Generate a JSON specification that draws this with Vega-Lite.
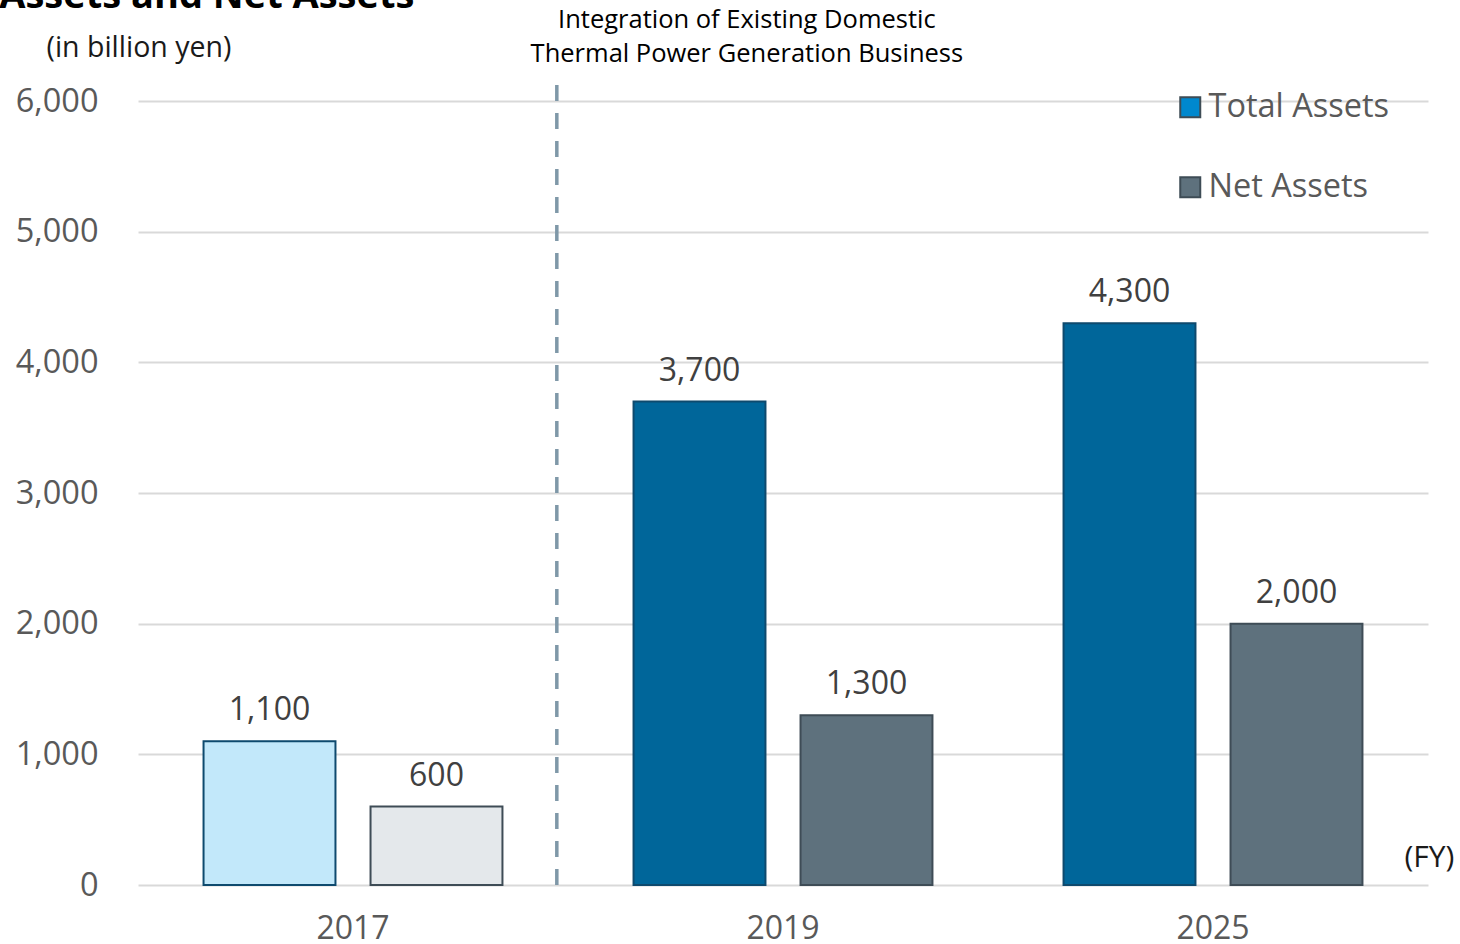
{
  "$schema": "https://vega.github.io/schema/vega-lite/v6.json",
  "width": 1290,
  "height": 784,
  "autosize": {"type": "none"},
  "padding": {"left": 138, "top": 101, "right": 32, "bottom": 59},
  "background": "white",
  "config": {"font": "Open Sans", "view": {"stroke": null}},
  "title": {
    "text": "Assets and Net Assets",
    "anchor": "start",
    "frame": "bounds",
    "fontSize": 38,
    "fontWeight": "bold",
    "color": "#000000",
    "offset": -8,
    "dx": -16
  },
  "layer": [
    {
      "data": {
        "values": [
          {"year": "2017", "series": "Total Assets", "value": 1100},
          {"year": "2017", "series": "Net Assets", "value": 600},
          {"year": "2019", "series": "Total Assets", "value": 3700},
          {"year": "2019", "series": "Net Assets", "value": 1300},
          {"year": "2025", "series": "Total Assets", "value": 4300},
          {"year": "2025", "series": "Net Assets", "value": 2000}
        ]
      },
      "layer": [
        {
          "mark": {"type": "bar", "strokeWidth": 2},
          "encoding": {
            "x": {
              "field": "year",
              "type": "nominal",
              "scale": {"paddingInner": 0, "paddingOuter": 0},
              "axis": {
                "title": "(FY)",
                "titleFontSize": 30,
                "titleFontWeight": "normal",
                "titleColor": "#1a1a1a",
                "titleX": 1266,
                "titleY": -28,
                "titleAlign": "left",
                "titleBaseline": "middle",
                "labelFontSize": 32,
                "labelColor": "#595959",
                "labelAngle": 0,
                "labelPadding": 28,
                "domain": false,
                "ticks": false
              }
            },
            "xOffset": {
              "field": "series",
              "type": "nominal",
              "scale": {"domain": ["Total Assets", "Net Assets"], "paddingInner": 0.21, "paddingOuter": 0.3925}
            },
            "y": {
              "field": "value",
              "type": "quantitative",
              "scale": {"domain": [0, 6000]},
              "axis": {
                "title": "(in billion yen)",
                "titleAngle": 0,
                "titleAlign": "left",
                "titleBaseline": "alphabetic",
                "titleX": -92,
                "titleY": -45,
                "titleFontSize": 28.5,
                "titleFontWeight": "normal",
                "titleColor": "#1a1a1a",
                "values": [0, 1000, 2000, 3000, 4000, 5000, 6000],
                "format": ",.0f",
                "labelFontSize": 32.5,
                "labelColor": "#595959",
                "labelPadding": 40,
                "domain": false,
                "ticks": false,
                "grid": true,
                "gridColor": "#D9D9D9",
                "gridWidth": 2
              }
            },
            "fill": {
              "field": "series",
              "type": "nominal",
              "scale": {"domain": ["Total Assets", "Net Assets"], "range": ["#0088CE", "#5E717D"]},
              "condition": [
                {"test": "datum.year === '2017' && datum.series === 'Total Assets'", "value": "#C2E8FA"},
                {"test": "datum.year === '2017'", "value": "#E4E8EB"},
                {"test": "datum.series === 'Total Assets'", "value": "#00669A"}
              ],
              "legend": {
                "title": null,
                "orient": "none",
                "legendX": 1036,
                "legendY": -10,
                "padding": 0,
                "symbolType": "square",
                "symbolSize": 400,
                "symbolStrokeWidth": 2,
                "labelFontSize": 32.5,
                "labelColor": "#595959",
                "labelOffset": 2,
                "labelLimit": 400,
                "rowPadding": 47,
                "labelFont": "Open Sans",
                "encode": {
                  "symbols": {
                    "update": {
                      "stroke": {"signal": "datum.value === 'Net Assets' ? '#3A4854' : '#0088CE'"},
                      "strokeWidth": {"value": 2}
                    }
                  }
                }
              }
            },
            "stroke": {
              "condition": [
                {"test": "datum.series === 'Total Assets'", "value": "#0E4A6E"}
              ],
              "value": "#3E4C56"
            }
          }
        },
        {
          "mark": {"type": "text", "baseline": "alphabetic", "dy": -21, "fontSize": 32, "color": "#404040"},
          "encoding": {
            "x": {"field": "year", "type": "nominal"},
            "xOffset": {"field": "series", "type": "nominal"},
            "y": {"field": "value", "type": "quantitative"},
            "text": {"field": "value", "type": "quantitative", "format": ","}
          }
        }
      ]
    },
    {
      "data": {"values": [{"year": "2017", "value": 6122, "value2": 0}]},
      "mark": {"type": "rule", "strokeDash": [16, 12], "strokeWidth": 3.5, "color": "#7F98A8"},
      "encoding": {
        "x": {"field": "year", "type": "nominal", "bandPosition": 0.974},
        "y": {"field": "value", "type": "quantitative"},
        "y2": {"field": "value2"}
      }
    },
    {
      "data": {
        "values": [
          {"year": "2019", "value": 6620, "text": "Integration of Existing Domestic"},
          {"year": "2019", "value": 6360, "text": "Thermal Power Generation Business"}
        ]
      },
      "mark": {"type": "text", "baseline": "middle", "align": "center", "fontSize": 25.5, "color": "#000000"},
      "encoding": {
        "x": {"field": "year", "type": "nominal", "bandPosition": 0.416},
        "y": {"field": "value", "type": "quantitative"},
        "text": {"field": "text", "type": "nominal"}
      }
    }
  ]
}
